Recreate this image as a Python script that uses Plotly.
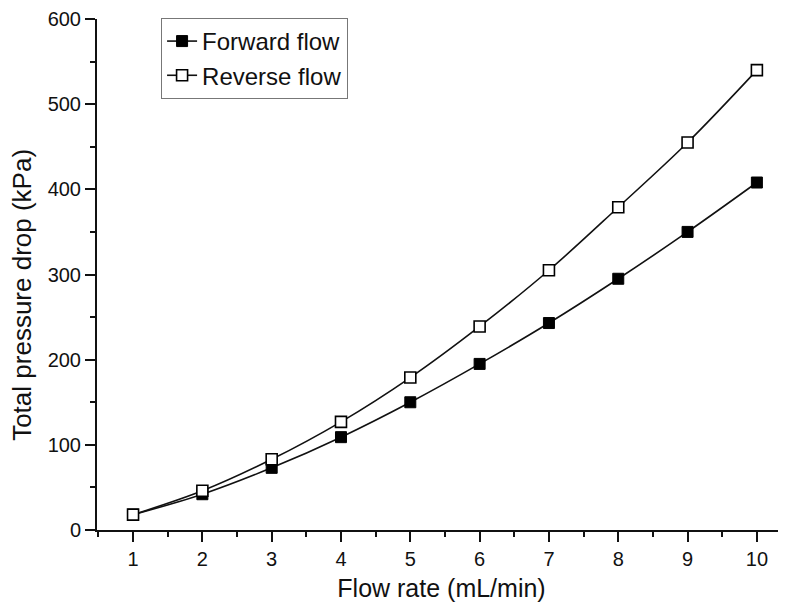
import plotly.graph_objects as go

flow_rate = [1, 2, 3, 4, 5, 6, 7, 8, 9, 10]
forward_flow = [18, 42, 73, 109, 150, 195, 243, 295, 350, 408]
reverse_flow = [18, 46, 83, 127, 179, 239, 305, 379, 455, 540]

fig = go.Figure()
fig.add_trace(go.Scatter(
    x=flow_rate, y=forward_flow, name="Forward flow", mode="lines+markers",
    line=dict(color="#111", width=1.6, shape="spline"),
    marker=dict(symbol="square", size=11, color="#000", line=dict(color="#000", width=1)),
))
fig.add_trace(go.Scatter(
    x=flow_rate, y=reverse_flow, name="Reverse flow", mode="lines+markers",
    line=dict(color="#111", width=1.6, shape="spline"),
    marker=dict(symbol="square", size=11, color="#fff", line=dict(color="#000", width=1.6)),
))

font = "Liberation Sans, Arial, sans-serif"
fig.update_layout(
    width=778, height=600,
    margin=dict(l=89, r=0, t=11, b=78),
    paper_bgcolor="white", plot_bgcolor="white",
    font=dict(family=font, color="#111", size=20),
    showlegend=True,
    legend=dict(
        x=0.093, y=1.002, xanchor="left", yanchor="top",
        bordercolor="#777", borderwidth=1, bgcolor="white",
        font=dict(size=24, family=font), tracegroupgap=0,
    ),
    xaxis=dict(
        range=[0.48, 10.42], tickmode="array", tickvals=flow_rate,
        ticks="outside", ticklen=10, tickwidth=1.8, tickcolor="#111",
        showline=True, linecolor="#111", linewidth=2, showgrid=False, zeroline=False,
        minor=dict(ticks="outside", dtick=0.5, tick0=0.5, ticklen=5, tickwidth=1.8, tickcolor="#111", showgrid=False),
        title=dict(text="Flow rate (mL/min)", font=dict(size=25, family=font), standoff=10),
        tickfont=dict(size=20),
    ),
    yaxis=dict(
        range=[0, 600], dtick=100,
        ticks="outside", ticklen=10, tickwidth=1.8, tickcolor="#111",
        showline=True, linecolor="#111", linewidth=2, showgrid=False, zeroline=False,
        minor=dict(ticks="outside", dtick=50, ticklen=5, tickwidth=1.8, tickcolor="#111", showgrid=False),
        tickfont=dict(size=20),
    ),
    annotations=[dict(
        text="Total pressure drop (kPa)", textangle=-90,
        xref="paper", yref="paper", x=-0.109, y=0.46,
        xanchor="center", yanchor="middle", showarrow=False,
        font=dict(size=26, family=font, color="#111"),
    )],
)

fig.write_html("out.html")
